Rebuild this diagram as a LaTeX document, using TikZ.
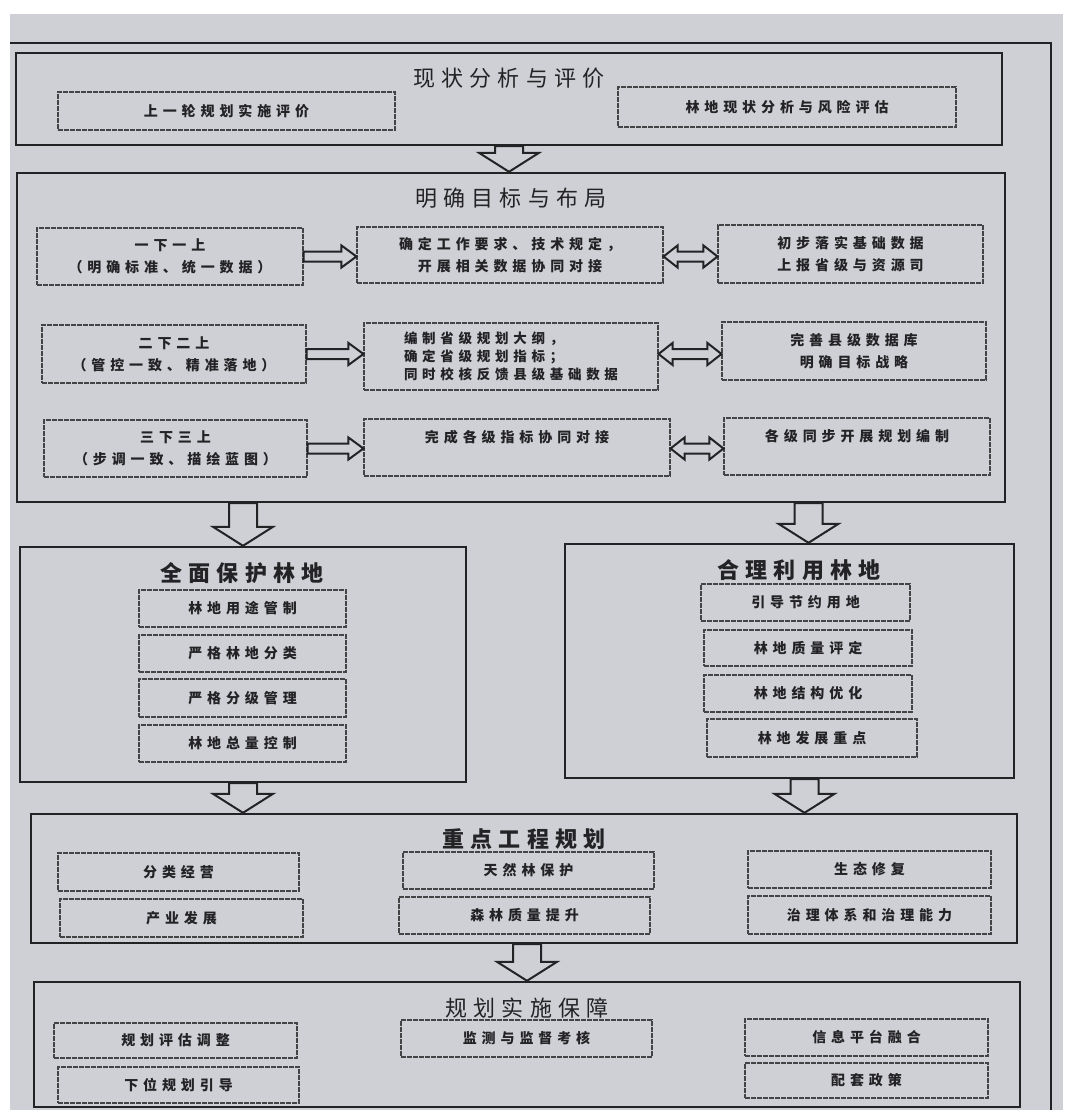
\documentclass[tikz,border=0pt]{standalone}
\usepackage{fontspec}
\setmainfont{Noto Sans CJK SC}
\newfontfamily\cjksp[LetterSpace=35]{Noto Sans CJK SC}
\newfontfamily\cjkt[LetterSpace=28]{Noto Sans CJK SC}
\usetikzlibrary{calc}
\definecolor{paper}{RGB}{207,208,213}
\definecolor{ink}{RGB}{35,35,38}
\newcommand\subfont{\cjksp\bfseries\fontsize{14}{22}\selectfont}
\newcommand\subfontc{\cjksp\bfseries\fontsize{13.5}{18}\selectfont}
\newcommand\titlefont{\cjkt\fontsize{22}{26}\selectfont}
\newcommand\btitlefont{\cjkt\bfseries\fontsize{22}{26}\selectfont}
\tikzset{
  bb/.style n args={4}{at={(#1/2+#3/2,#2/2+#4/2)}, minimum width={#3-#1}, minimum height={#4-#2}, anchor=center},
  mainbox/.style={draw=ink, line width=2.4pt, inner sep=0pt},
  subbox/.style={draw=ink!85, line width=1.1pt, dash pattern=on 5pt off 1pt, inner sep=0pt, font=\subfont, text=ink, align=center},
  title/.style={font=\titlefont, text=ink, inner sep=0pt},
  btitle/.style={font=\btitlefont, text=ink, inner sep=0pt},
  hollow/.style={draw=ink, line width=2pt, fill=paper, line join=miter},
}
\newcommand\downarr[2]{\draw[hollow] ($(#1)+(-14,0)$) -- ($(#2)+(-14,-19)$) -- ($(#2)+(-30,-19)$) -- (#2) -- ($(#2)+(30,-19)$) -- ($(#2)+(14,-19)$) -- ($(#1)+(14,0)$) -- cycle;}
\newcommand\rarr[2]{\draw[hollow] ($(#1)+(0,-5)$) -- ($(#2)+(-15,-5)$) -- ($(#2)+(-15,-11)$) -- (#2) -- ($(#2)+(-15,11)$) -- ($(#2)+(-15,5)$) -- ($(#1)+(0,5)$) -- cycle;}
\newcommand\darr[2]{\draw[hollow] (#1) -- ($(#1)+(14,-11)$) -- ($(#1)+(14,-5)$) -- ($(#2)+(-14,-5)$) -- ($(#2)+(-14,-11)$) -- (#2) -- ($(#2)+(-14,11)$) -- ($(#2)+(-14,5)$) -- ($(#1)+(14,5)$) -- ($(#1)+(14,11)$) -- cycle;}
\begin{document}
\begin{tikzpicture}[x=1pt,y=-1pt]
\useasboundingbox (0,0) rectangle (1067,1110);
\fill[white] (0,0) rectangle (1067,1110);
\fill[paper] (10,14) rectangle (1063,1110);
% outer frame
\draw[ink, line width=2pt] (10,43) -- (1051,43) -- (1051,1110);

% box 1
\node[mainbox, bb={16}{53}{1002}{145}] (b1) {};
\node[title] (t1) at (509,78) {现状分析与评价};
\node[subbox, bb={58}{92}{395}{130}] (s11) {上一轮规划实施评价};
\node[subbox, bb={618}{87}{956}{127}] (s12) {林地现状分析与风险评估};

% box 2
\node[mainbox, bb={17}{173}{1005}{502}] (b2) {};
\node[title] (t2) at (511,198) {明确目标与布局};
\node[subbox, bb={37}{228}{303}{285}] (l1) {一下一上\\（明确标准、统一数据）};
\node[subbox, bb={357}{227}{663}{283}] (m1) {确定工作要求、技术规定，\\开展相关数据协同对接};
\node[subbox, bb={718}{225}{983}{283}] (r1) {初步落实基础数据\\上报省级与资源司};
\node[subbox, bb={42}{325}{306}{383}] (l2) {二下二上\\（管控一致、精准落地）};
\node[subbox, bb={364}{323}{658}{390}, font=\subfontc, align=left] (m2) {编制省级规划大纲，\\确定省级规划指标；\\同时校核反馈县级基础数据};
\node[subbox, bb={722}{322}{986}{380}] (r2) {完善县级数据库\\明确目标战略};
\node[subbox, bb={44}{420}{307}{477}] (l3) {三下三上\\（步调一致、描绘蓝图）};
\node[subbox, bb={364}{419}{670}{476}] (m3) {完成各级指标协同对接\\~};
\node[subbox, bb={724}{418}{990}{475}] (r3) {各级同步开展规划编制\\~};

% box 3
\node[mainbox, bb={20}{547}{466}{782}] (b3l) {};
\node[btitle] (t3l) at (242,573) {全面保护林地};
\node[subbox, bb={139}{590}{346}{627}] (s31) {林地用途管制};
\node[subbox, bb={139}{635}{346}{672}] (s32) {严格林地分类};
\node[subbox, bb={139}{679}{346}{717}] (s33) {严格分级管理};
\node[subbox, bb={139}{725}{346}{762}] (s34) {林地总量控制};
\node[mainbox, bb={565}{544}{1014}{778}] (b3r) {};
\node[btitle] (t3r) at (799,570) {合理利用林地};
\node[subbox, bb={701}{584}{910}{621}] (s35) {引导节约用地};
\node[subbox, bb={704}{630}{912}{666}] (s36) {林地质量评定};
\node[subbox, bb={704}{675}{912}{712}] (s37) {林地结构优化};
\node[subbox, bb={707}{719}{917}{757}] (s38) {林地发展重点};

% box 4
\node[mainbox, bb={31}{814}{1017}{943}] (b4) {};
\node[btitle] (t4) at (524,839) {重点工程规划};
\node[subbox, bb={58}{853}{299}{891}] (s41) {分类经营};
\node[subbox, bb={60}{899}{303}{937}] (s42) {产业发展};
\node[subbox, bb={403}{852}{654}{889}] (s43) {天然林保护};
\node[subbox, bb={399}{897}{650}{934}] (s44) {森林质量提升};
\node[subbox, bb={748}{851}{991}{888}] (s45) {生态修复};
\node[subbox, bb={748}{896}{991}{934}] (s46) {治理体系和治理能力};

% box 5
\node[mainbox, bb={34}{982}{1020}{1107}] (b5) {};
\node[title] (t5) at (527,1008) {规划实施保障};
\node[subbox, bb={54}{1023}{297}{1058}] (s51) {规划评估调整};
\node[subbox, bb={58}{1067}{299}{1103}] (s52) {下位规划引导};
\node[subbox, bb={401}{1020}{652}{1057}] (s53) {监测与监督考核};
\node[subbox, bb={745}{1019}{988}{1056}] (s54) {信息平台融合};
\node[subbox, bb={745}{1063}{988}{1098}] (s55) {配套政策};

% connector coordinates
\coordinate (a1s) at (b1.south);
\coordinate (a1e) at (b1.south |- b2.north);
\coordinate (a2e) at (b3l.north);
\coordinate (a2s) at (b3l.north |- b2.south);
\coordinate (a3e) at ($(b3r.north)+(19,0)$);
\coordinate (a3s) at (a3e |- b2.south);
\coordinate (a4s) at (b3l.south);
\coordinate (a4e) at (b3l.south |- b4.north);
\coordinate (a5s) at ($(b3r.south)+(15,0)$);
\coordinate (a5e) at (a5s |- b4.north);
\coordinate (a6e) at (b5.north);
\coordinate (a6s) at (b5.north |- b4.south);

\downarr{a1s}{a1e}
\downarr{a2s}{a2e}
\downarr{a3s}{a3e}
\downarr{a4s}{a4e}
\downarr{a5s}{a5e}
\downarr{a6s}{a6e}

% row arrows
\coordinate (p1) at (l1.east); \coordinate (q1) at (m1.west |- l1.east);
\coordinate (u1) at (m1.east |- l1.east); \coordinate (v1) at (r1.west |- l1.east);
\coordinate (p2) at (l2.east); \coordinate (q2) at (m2.west |- l2.east);
\coordinate (u2) at (m2.east |- l2.east); \coordinate (v2) at (r2.west |- l2.east);
\coordinate (p3) at (l3.east); \coordinate (q3) at (m3.west |- l3.east);
\coordinate (u3) at (m3.east |- l3.east); \coordinate (v3) at (r3.west |- l3.east);
\rarr{p1}{q1} \darr{u1}{v1}
\rarr{p2}{q2} \darr{u2}{v2}
\rarr{p3}{q3} \darr{u3}{v3}
\end{tikzpicture}
\end{document}
